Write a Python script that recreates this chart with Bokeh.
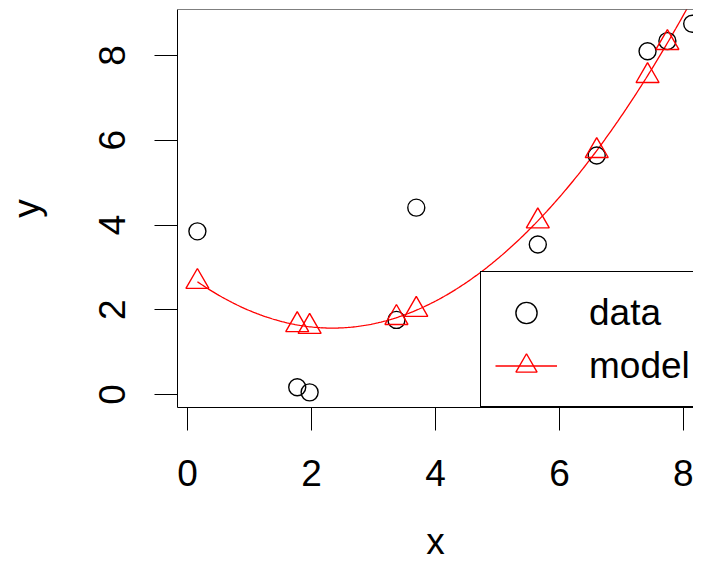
import numpy as np
from bokeh.plotting import figure
from bokeh.models import Range1d, Span, Legend, LegendItem
from bokeh.embed import file_html
from bokeh.resources import INLINE

# ---- data ----
x_data = [0.16, 1.77, 1.97, 3.37, 3.69, 5.65, 6.60, 7.42, 7.74, 8.14]
y_data = [3.85, 0.17, 0.05, 1.76, 4.41, 3.54, 5.64, 8.10, 8.34, 8.75]
y_model = [2.66, 1.64, 1.60, 1.81, 2.00, 4.09, 5.75, 7.52, 8.30, 9.33]
x_ticks = [0, 2, 4, 6, 8]
y_ticks = [0, 2, 4, 6, 8]
legend_labels = ["data", "model"]
x_title = "x"
y_title = "y"

# smooth model curve: quadratic through the model values
coef = np.polyfit(x_data, y_model, 2)
x_curve = np.linspace(min(x_data), max(x_data), 300)
y_curve = np.polyval(coef, x_curve)

FONT = "Liberation Sans"
FS = "37px"
RED = "#FF0000"

x0, x1 = -0.161, 8.161
y0, y1 = -0.307, 9.086

p = figure(width=693, height=576, output_backend="svg", toolbar_location=None,
           x_range=Range1d(x0, x1), y_range=Range1d(y0, y1),
           min_border_left=177, min_border_right=0, min_border_top=9,
           min_border_bottom=169)
p.grid.visible = False
p.outline_line_color = None
p.background_fill_color = "white"
p.border_fill_color = "white"

r_curve = p.line(x_curve, y_curve, line_color=RED, line_width=1.3)
r_pts = p.scatter(x_data, y_data, marker="circle", size=17, fill_color=None,
                  line_color="black", line_width=1.4)
r_tri = p.scatter(x_data, y_model, marker="triangle", size=23, fill_color=None,
                  line_color=RED, line_width=1.4)

# top border of the box
p.add_layout(Span(location=y1, dimension="width", line_color="black", line_width=1))

for ax in (p.xaxis[0], p.yaxis[0]):
    ax.axis_line_color = "black"
    ax.axis_line_width = 1
    ax.major_tick_out = 23
    ax.major_tick_in = 0
    ax.minor_tick_out = 0
    ax.minor_tick_in = 0
    ax.major_tick_line_color = "black"
    ax.major_tick_line_width = 1
    ax.major_label_text_font = FONT
    ax.major_label_text_font_size = FS
    ax.major_label_text_color = "black"
    ax.axis_label_text_font = FONT
    ax.axis_label_text_font_size = FS
    ax.axis_label_text_font_style = "normal"
    ax.axis_label_text_color = "black"
p.xaxis.ticker = x_ticks
p.yaxis.ticker = y_ticks
p.xaxis.axis_label = x_title
p.yaxis.axis_label = y_title
p.yaxis.major_label_orientation = "vertical"
p.xaxis.major_label_standoff = 29
p.yaxis.major_label_standoff = 29
p.xaxis.axis_label_standoff = 32
p.yaxis.axis_label_standoff = 50

legend = Legend(items=[LegendItem(label=legend_labels[0], renderers=[r_pts]),
                       LegendItem(label=legend_labels[1], renderers=[r_curve, r_tri])],
                location=(303, 0), margin=0, padding=14, spacing=0,
                glyph_width=62, glyph_height=53, label_standoff=32,
                label_text_font=FONT, label_text_font_size=FS,
                label_text_color="black",
                border_line_color="black", border_line_width=1, border_line_alpha=1.0,
                background_fill_color="white", background_fill_alpha=1.0)
p.add_layout(legend, "center")

open("out.html", "w").write(file_html(p, INLINE))
